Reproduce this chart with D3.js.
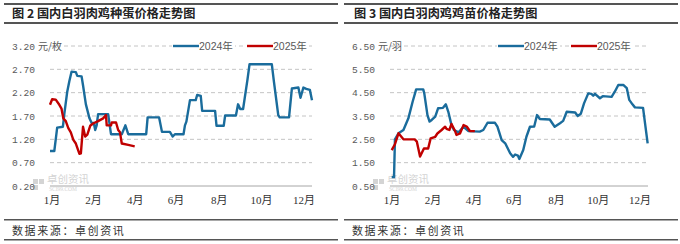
<!DOCTYPE html>
<html>
<head>
<meta charset="utf-8">
<script src="https://cdn.jsdelivr.net/npm/d3@7"></script>
<style>
  body { margin: 0; background: #fff; }
  svg { display: block; }
</style>
</head>
<body>
<script>
// data, x = day of year (0..365)
const monthLabels = ['1月', '2月', '4月', '6月', '8月', '10月', '12月'];
const monthTicks = [2, 60, 118, 175, 235, 294, 353];

const eggTicks = [0.2, 0.7, 1.2, 1.7, 2.2, 2.7, 3.2];
const chickTicks = [0.5, 1.5, 2.5, 3.5, 4.5, 5.5, 6.5];

const egg2024 = [[0,0.95],[6,0.95],[8,1.2],[10,1.45],[18,1.47],[20,1.75],[24,2.22],[27,2.45],[30,2.65],[36,2.64],[38,2.56],[44,2.55],[46,2.36],[50,1.95],[55,1.65],[58,1.55],[61,1.55],[63,1.4],[65,1.5],[67,1.74],[81,1.74],[85,1.31],[100,1.31],[105,1.5],[109,1.31],[134,1.31],[136,1.67],[152,1.67],[156,1.36],[167,1.36],[171,1.26],[174,1.31],[186,1.31],[188,1.5],[190,1.58],[195,2.04],[203,2.04],[205,2.15],[210,2.13],[212,1.81],[230,1.81],[232,1.49],[242,1.49],[244,1.71],[259,1.71],[262,1.95],[265,1.85],[269,1.85],[275,2.47],[278,2.81],[309,2.81],[312,2.43],[318,1.72],[320,1.67],[333,1.67],[337,2.29],[346,2.31],[349,2.09],[353,2.31],[357,2.28],[362,2.26],[365,2.04]];
const egg2025 = [[0,1.94],[3,2.06],[8,2.05],[13,1.94],[16,1.86],[18.5,1.65],[22,1.59],[25.5,1.44],[29,1.35],[32.5,1.19],[36,1.11],[41,0.89],[43,0.9],[46,1.47],[49,1.26],[52,1.3],[56,1.49],[60,1.54],[67,1.59],[74,1.65],[78,1.72],[79,1.5],[85,1.5],[86,1.56],[92,1.56],[95,1.4],[97.5,1.35],[100,1.11],[109,1.08],[118,1.05]];

const chick2024 = [[2.4,0.88],[5.7,0.88],[7,2.5],[12,2.76],[19,2.9],[26,3.4],[32,4.11],[37,4.64],[47,4.64],[48.5,4.47],[53,3.54],[56,3.26],[59,3.33],[64,3.47],[68,3.83],[75,3.85],[79,4.0],[82.5,3.68],[87,3.11],[90.5,2.9],[97,2.8],[104,3.04],[111,2.85],[127,2.83],[132,2.9],[138,3.21],[148.5,3.21],[152,3.04],[158,2.47],[163,2.33],[170,1.9],[174,1.75],[177,1.85],[181,1.8],[183,1.66],[188.5,2.04],[193,2.61],[198,3.04],[204,3.05],[208,3.54],[212,3.37],[226,3.35],[233,3.04],[240.5,3.19],[245,3.29],[250,3.68],[262,3.65],[265.5,3.5],[270,3.6],[274.5,4.04],[280.5,4.47],[285,4.45],[287.5,4.37],[290,4.45],[297,4.26],[301,4.35],[313.5,4.32],[318,4.54],[323,4.83],[330,4.83],[335,4.69],[338.5,4.19],[343,4.0],[346.5,3.87],[358,3.85],[360.5,3.26],[364.5,2.33]];
const chick2025 = [[2.4,2.04],[7,2.29],[12,2.76],[19,2.5],[35,2.5],[38,2.4],[42.5,1.76],[48,2.11],[54,2.11],[57.5,2.54],[64,2.61],[67,2.75],[73,2.9],[78,3.04],[80,2.95],[84,2.9],[87,3.16],[92,2.86],[94,2.69],[99,2.75],[104,3.11],[108.5,3.05],[113,2.86],[120,2.85]];

const seriesNames = ['2024年', '2025年'];
const seriesColors = ['#1a6c9c', '#c00000'];

const W = 680, H = 244;
const svg = d3.select('body').append('svg').attr('width', W).attr('height', H);

const yFont = '"Liberation Mono", "DejaVu Sans Mono", "Noto Sans CJK SC", monospace';
const cjk = '"Noto Sans CJK SC", sans-serif';

function drawPanel(opt) {
    const g = svg.append('g').attr('transform', `translate(${opt.left},0)`);
    const x = d3.scaleLinear().domain([0, 365]).range([opt.x0, opt.x1]);
    const y = d3.scaleLinear().domain(d3.extent(opt.ticks)).range([186, 46]);

    // frame lines and title
    g.append('rect').attr('x', 4).attr('y', 3).attr('width', 334).attr('height', 2).attr('fill', '#555');
    g.append('rect').attr('x', 4).attr('y', 22).attr('width', 334).attr('height', 2).attr('fill', '#555');
    g.append('rect').attr('x', 4).attr('y', 219).attr('width', 334).attr('height', 1.5).attr('fill', '#555');
    g.append('rect').attr('x', 4).attr('y', 239).attr('width', 334).attr('height', 1.5).attr('fill', '#555');
    g.append('text').attr('x', opt.titleX).attr('y', 18)
        .attr('font-family', cjk).attr('font-weight', 'bold').attr('font-size', 12.2)
        .style('white-space', 'pre')
        .attr('fill', '#222').text(opt.title);
    g.append('text').attr('x', 12).attr('y', 235)
        .attr('font-family', cjk).attr('font-size', 11).attr('letter-spacing', 1.6)
        .attr('fill', '#333').text('数据来源：卓创资讯');

    // grid
    g.selectAll('.grid').data(opt.ticks.slice(1)).enter().append('line')
        .attr('x1', opt.x0).attr('x2', opt.x1)
        .attr('y1', d => y(d)).attr('y2', d => y(d))
        .attr('stroke', '#c4c4c4').attr('stroke-width', 1).attr('stroke-dasharray', '4,3');

    // watermark
    const wm = g.append('g').attr('fill', '#d4d4d4');
    wm.append('rect').attr('x', 33).attr('y', 179).attr('width', 5).attr('height', 5);
    wm.append('rect').attr('x', 39).attr('y', 179).attr('width', 5).attr('height', 5);
    wm.append('rect').attr('x', 33).attr('y', 185).attr('width', 5).attr('height', 5);
    wm.append('text').attr('x', 47).attr('y', 183).attr('font-family', cjk).attr('font-size', 10.5).text('卓创资讯');
    wm.append('text').attr('x', 49).attr('y', 191).attr('font-family', '"Liberation Serif", serif').attr('font-size', 5.5).text('SCI99.COM');

    g.append('line').attr('x1', opt.x0).attr('x2', opt.x1)
        .attr('y1', y(opt.ticks[0])).attr('y2', y(opt.ticks[0]))
        .attr('stroke', '#a6a6a6').attr('stroke-width', 1);

    // y axis
    const yAxis = d3.axisLeft(y).tickValues(opt.ticks).tickSize(0).tickPadding(opt.x0 - 35)
        .tickFormat(d3.format('.2f'));
    const ya = g.append('g').attr('transform', `translate(${opt.x0},0)`).call(yAxis);
    ya.select('.domain').remove();
    ya.selectAll('text').attr('font-family', yFont).attr('font-size', 9.6).attr('fill', '#595959');
    g.append('text').attr('x', 38).attr('y', y(opt.ticks[opt.ticks.length - 1]) + 4)
        .attr('font-family', cjk).attr('font-size', 10).attr('fill', '#595959').text(opt.unit);

    // x axis
    const xAxis = d3.axisBottom(x).tickValues(monthTicks).tickSize(0).tickPadding(10)
        .tickFormat((d, i) => monthLabels[i]);
    const xa = g.append('g').attr('transform', `translate(0,186)`).call(xAxis);
    xa.select('.domain').remove();
    xa.selectAll('text').attr('font-family', '"Liberation Serif", "Noto Sans CJK SC", serif')
        .attr('font-size', 11).attr('fill', '#333');

    // lines
    const line = d3.line().x(d => x(d[0])).y(d => y(d[1]));
    opt.series.forEach((s, i) => {
        g.append('path').datum(s).attr('d', line)
            .attr('fill', 'none').attr('stroke', seriesColors[i])
            .attr('stroke-width', 2.4).attr('stroke-linejoin', 'round');
    });

    // legend
    const ly = 46;
    opt.legendX.forEach((lx, i) => {
        const lg = g.append('g').attr('transform', `translate(${lx},${ly})`);
        lg.append('rect').attr('x', -1).attr('y', -7).attr('width', 63).attr('height', 13).attr('fill', '#fff');
        lg.append('line').attr('x1', 0).attr('x2', 26).attr('y1', 0).attr('y2', 0)
            .attr('stroke', seriesColors[i]).attr('stroke-width', 2.4);
        lg.append('text').attr('x', 26).attr('y', 4)
            .attr('font-family', '"Liberation Sans", "Noto Sans CJK SC", sans-serif')
            .attr('font-size', 10.5).attr('fill', '#595959').text(seriesNames[i]);
    });
}

drawPanel({
    left: 0, x0: 50, x1: 312, titleX: 12,
    title: '图 2 国内白羽肉鸡种蛋价格走势图', unit: '元/枚',
    ticks: eggTicks, series: [egg2024, egg2025], legendX: [173, 247]
});
drawPanel({
    left: 340, x0: 50, x1: 308, titleX: 14,
    title: '图 3 国内白羽肉鸡鸡苗价格走势图', unit: '元/羽',
    ticks: chickTicks, series: [chick2024, chick2025], legendX: [158, 231]
});
</script>
</body>
</html>
